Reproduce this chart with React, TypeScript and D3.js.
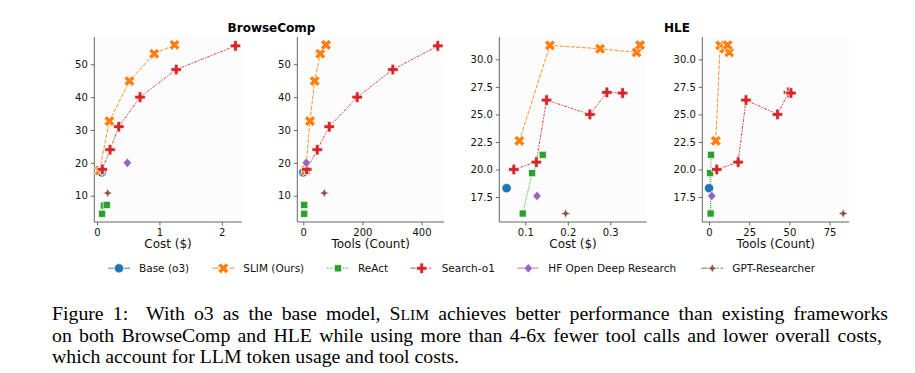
import React, { useEffect, useRef } from "react";
import * as d3 from "d3";

const methods = [
  "Base (o3)",
  "SLIM (Ours)",
  "ReAct",
  "Search-o1",
  "HF Open Deep Research",
  "GPT-Researcher",
];
const colors = ["#1f77b4", "#ff7f0e", "#2ca02c", "#d62728", "#9467bd", "#8c564b"];
const dashes = ["", "4,1.5", "1,1", "3,1.25,1.5,1.25", "5,1,1,1", "5,1,2,1,2,1"];
const shapes = ["circle", "x", "square", "plus", "diamond", "star"];

// rows are [cost, tools, score]
const baseBC = [[0.075, 0, 17.1]];
const slimBC = [
  [0.04, 8, 17.7],
  [0.198, 22.6, 32.7],
  [0.52, 38.5, 44.9],
  [0.917, 57.5, 53.2],
  [1.243, 76.7, 55.9],
];
const reactBC = [
  [0.08, 3, 4.5],
  [0.11, 3, 7.0],
  [0.156, 3, 7.2],
];
const searchBC = [
  [0.085, 11.5, 18.0],
  [0.209, 47.3, 24.0],
  [0.349, 87.8, 31.0],
  [0.69, 182.4, 40.0],
  [1.27, 303, 48.4],
  [2.22, 455, 55.6],
];
const hfBC = [[0.487, 10, 20.0]];
const gptBC = [[0.172, 71, 10.8]];

const baseHLE = [[0.056, 0, 18.3]];
const slimHLE = [
  [0.086, 4.2, 22.6],
  [0.158, 6.9, 31.27],
  [0.276, 9.5, 30.96],
  [0.362, 12.5, 30.63],
  [0.37, 11.5, 31.3],
];
const reactHLE = [
  [0.094, 1.0, 16.0],
  [0.116, 0.6, 19.67],
  [0.141, 1.2, 21.33],
];
const searchHLE = [
  [0.073, 4.8, 20.0],
  [0.126, 18.1, 20.67],
  [0.15, 23, 26.3],
  [0.252, 42.6, 25.0],
  [0.292, 49.5, 27.0],
  [0.329, 51, 26.94],
];
const hfHLE = [[0.1275, 1.7, 17.6]];
const gptHLE = [[0.195, 83.5, 16.0]];

const bcData = [baseBC, slimBC, reactBC, searchBC, hfBC, gptBC];
const hleData = [baseHLE, slimHLE, reactHLE, searchHLE, hfHLE, gptHLE];

const bcTicks = [10, 20, 30, 40, 50];
const hleTicks = [17.5, 20, 22.5, 25, 27.5, 30];

const panels = [
  { left: 94.3, right: 241.7, data: bcData, col: 0, xDomain: [-0.044, 2.32], xTicks: [0, 1, 2], xFmt: "d", yDomain: [2.0, 58.3], yTicks: bcTicks, yFmt: "d", xLabel: "Cost ($)" },
  { left: 297.3, right: 444, data: bcData, col: 1, xDomain: [-20.3, 476], xTicks: [0, 200, 400], xFmt: "d", yDomain: [2.0, 58.3], yTicks: bcTicks, yFmt: "d", xLabel: "Tools (Count)" },
  { left: 499.3, right: 646.7, data: hleData, col: 0, xDomain: [0.0388, 0.3857], xTicks: [0.1, 0.2, 0.3], xFmt: ".1f", yDomain: [15.23, 32.03], yTicks: hleTicks, yFmt: ".1f", xLabel: "Cost ($)" },
  { left: 702.3, right: 849.3, data: hleData, col: 1, xDomain: [-4.2, 87.3], xTicks: [0, 25, 50, 75], xFmt: "d", yDomain: [15.23, 32.03], yTicks: hleTicks, yFmt: ".1f", xLabel: "Tools (Count)" },
];

const plusPts = (h, a) => [
  [-a, -h], [a, -h], [a, -a], [h, -a], [h, a], [a, a],
  [a, h], [-a, h], [-a, a], [-h, a], [-h, -a], [-a, -a],
];

const markerPath = (shape) => {
  if (shape === "circle") {
    const p = d3.path();
    p.arc(0, 0, 4.7, 0, Math.PI * 2);
    return p.toString();
  }
  let pts;
  if (shape === "plus") pts = plusPts(5.3, 1.85);
  else if (shape === "x") {
    const r = Math.SQRT1_2;
    pts = plusPts(5.6, 2.0).map(([x, y]) => [(x - y) * r, (x + y) * r]);
  } else if (shape === "square") pts = [[-3.6, -3.6], [3.6, -3.6], [3.6, 3.6], [-3.6, 3.6]];
  else if (shape === "diamond") pts = [[0, -4.8], [4.3, 0], [0, 4.8], [-4.3, 0]];
  else {
    const o = 5, i = 1.5;
    pts = [[0, -o], [i, -i], [o, 0], [i, i], [0, o], [-i, i], [-o, 0], [-i, -i]];
  }
  return "M" + pts.map((p) => p.join(",")).join("L") + "Z";
};

const captionLines = [
  { parts: ["Figure 1:", "  With o3 as the base model, ", "S", "LIM", " achieves better performance than existing frameworks"], justify: 836 },
  { parts: ["on both BrowseComp and HLE while using more than 4-6x fewer tool calls and lower overall costs,"], justify: 830 },
  { parts: ["which account for LLM token usage and tool costs."], justify: 0 },
];

const App = () => {
  const svgRef = useRef();

  useEffect(() => {
    const svg = d3.select(svgRef.current);
    svg.selectAll("*").remove();
    const top = 37;
    const bottom = 222;
    const font = "DejaVu Sans, sans-serif";

    panels.forEach((pn) => {
      const x = d3.scaleLinear().domain(pn.xDomain).range([pn.left, pn.right]);
      const y = d3.scaleLinear().domain(pn.yDomain).range([bottom, top]);
      const g = svg.append("g");

      g.append("rect")
        .attr("x", pn.left)
        .attr("y", top)
        .attr("width", pn.right - pn.left)
        .attr("height", bottom - top)
        .attr("fill", "#fcfcfc");

      // axes: ticks from d3, spines drawn separately
      const xa = g.append("g").attr("transform", `translate(0,${bottom})`)
        .call(d3.axisBottom(x).tickValues(pn.xTicks).tickFormat(d3.format(pn.xFmt)).tickSize(3.5).tickPadding(3));
      const ya = g.append("g").attr("transform", `translate(${pn.left},0)`)
        .call(d3.axisLeft(y).tickValues(pn.yTicks).tickFormat(d3.format(pn.yFmt)).tickSize(3.5).tickPadding(3));
      [xa, ya].forEach((a) => {
        a.select(".domain").remove();
        a.selectAll("line").attr("stroke", "#444").attr("stroke-width", 0.8);
        a.selectAll("text").attr("fill", "#111").style("font-family", font).style("font-size", "10px");
      });
      g.append("line").attr("x1", pn.left).attr("x2", pn.right).attr("y1", bottom).attr("y2", bottom)
        .attr("stroke", "#555").attr("stroke-width", 0.9);
      g.append("line").attr("x1", pn.left).attr("x2", pn.left).attr("y1", top).attr("y2", bottom)
        .attr("stroke", "#555").attr("stroke-width", 0.9);

      g.append("text")
        .attr("x", (pn.left + pn.right) / 2)
        .attr("y", 248)
        .attr("text-anchor", "middle")
        .style("font-family", font)
        .style("font-size", "12px")
        .attr("fill", "#111")
        .text(pn.xLabel);

      pn.data.forEach((rows, i) => {
        const pts = rows.map((r) => [r[pn.col], r[2]]).sort((a, b) => a[0] - b[0]);
        if (pts.length > 1) {
          const line = d3.line().x((d) => x(d[0])).y((d) => y(d[1]));
          g.append("path")
            .attr("d", line(pts))
            .attr("fill", "none")
            .attr("stroke", colors[i])
            .attr("stroke-width", 1)
            .attr("stroke-opacity", 0.85)
            .attr("stroke-dasharray", dashes[i] || null);
        }
      });
      pn.data.forEach((rows, i) => {
        rows.forEach((r) => {
          g.append("path")
            .attr("d", markerPath(shapes[i]))
            .attr("transform", `translate(${x(r[pn.col])},${y(r[2])})`)
            .attr("fill", colors[i])
            .attr("stroke", "#fff")
            .attr("stroke-width", 0.75);
        });
      });
    });

    // group titles
    [["BrowseComp", 271.5], ["HLE", 677]].forEach(([t, cx]) => {
      svg.append("text")
        .attr("x", cx)
        .attr("y", 32)
        .attr("text-anchor", "middle")
        .style("font-family", font)
        .style("font-size", "12px")
        .style("font-weight", "bold")
        .text(t);
    });

    // legend
    const legendX = [119, 223.3, 338, 421.7, 528.3, 712.3];
    const ly = 268.3;
    methods.forEach((m, i) => {
      const lg = svg.append("g").attr("transform", `translate(${legendX[i]},${ly})`);
      lg.append("line")
        .attr("x1", -11).attr("x2", 11)
        .attr("stroke", colors[i])
        .attr("stroke-width", 1.6)
        .attr("stroke-opacity", 0.6)
        .attr("stroke-dasharray", dashes[i] ? dashes[i].split(",").map((v) => +v * 1.6).join(",") : null);
      lg.append("path")
        .attr("d", markerPath(shapes[i]))
        .attr("fill", colors[i])
        .attr("stroke", "#fff")
        .attr("stroke-width", 0.75);
      lg.append("text")
        .attr("x", 20)
        .attr("y", 4)
        .style("font-family", font)
        .style("font-size", "10.5px")
        .attr("fill", "#111")
        .text(m);
    });

    // caption, justified by widening the word gaps
    const baselines = [320, 341.5, 363];
    captionLines.forEach((ln, k) => {
      const t = svg.append("text")
        .attr("x", 52)
        .attr("y", baselines[k])
        .style("font-family", "Liberation Serif, Times New Roman, serif")
        .style("font-size", "19.8px")
        .style("white-space", "pre")
        .attr("fill", "#000");
      ln.parts.forEach((p) => {
        const ts = t.append("tspan").text(p);
        if (p === "LIM") ts.style("font-size", "15.6px");
      });
      if (ln.justify) {
        const natural = t.node().getComputedTextLength();
        const gaps = (ln.parts.join("").match(/ /g) || []).length;
        if (gaps && natural < ln.justify) t.style("word-spacing", `${(ln.justify - natural) / gaps}px`);
      }
    });
  }, []);

  return (
    <svg
      ref={svgRef}
      width="915"
      height="373"
      style={{ position: "absolute", left: 0, top: 0, background: "#fff" }}
    ></svg>
  );
};

export default App;
